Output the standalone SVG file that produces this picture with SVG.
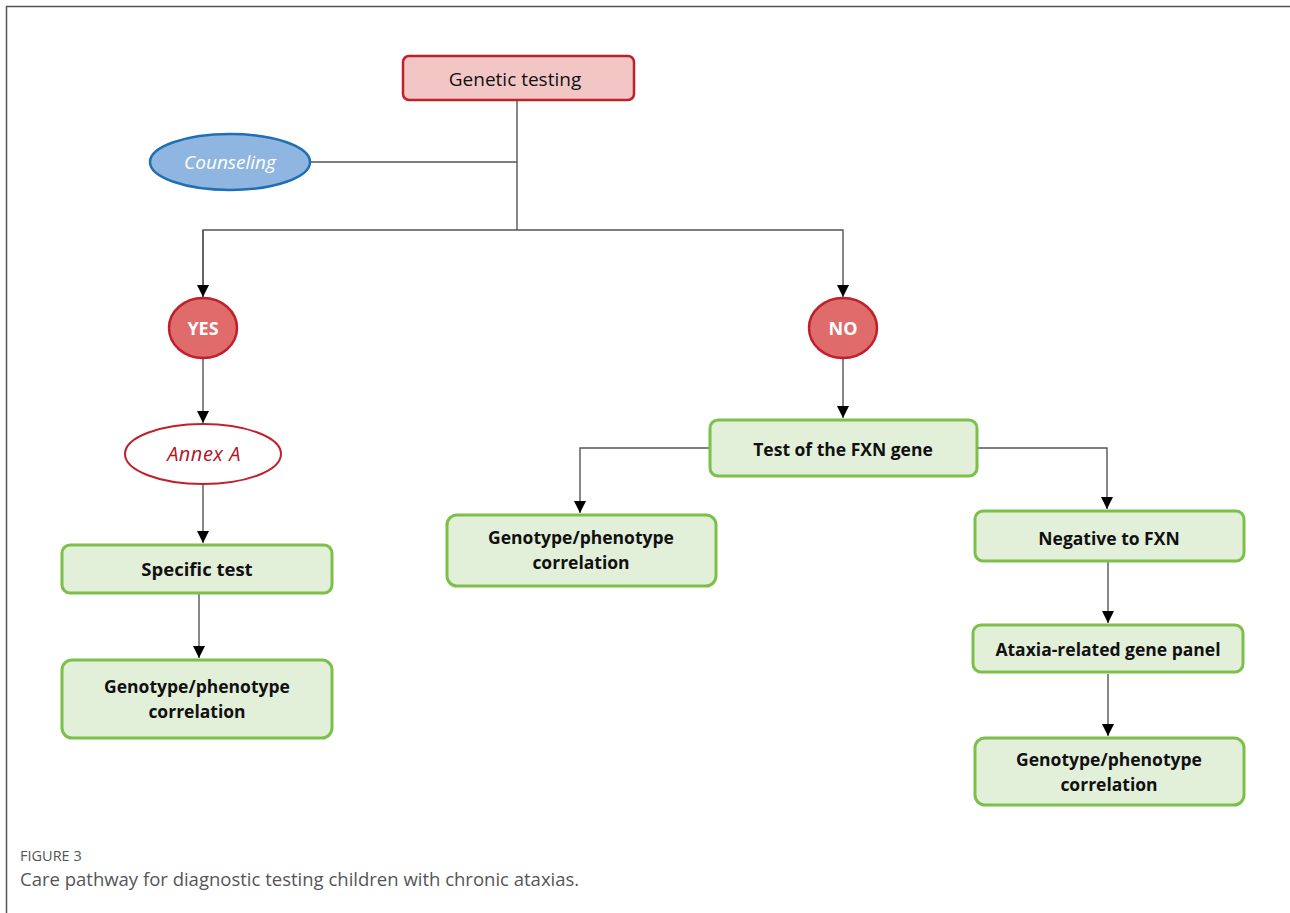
<svg xmlns="http://www.w3.org/2000/svg" width="1290" height="913" viewBox="0 0 1290 913">
<style>
.frame{stroke:#555;stroke-width:1.5;fill:none}
.conn{stroke:#555;stroke-width:1.4;fill:none}
.green{fill:#e2efd9;stroke:#7cc04b;stroke-width:3}
.t{font-family:"Open Sans","Liberation Sans",sans-serif;font-weight:bold;font-size:17.5px;fill:#111;text-anchor:middle}
.cap{font-family:"Open Sans","Liberation Sans",sans-serif;fill:#555}
</style>
<defs>
<marker id="ah" viewBox="0 0 10 10" refX="10" refY="5" markerWidth="12" markerHeight="12" markerUnits="userSpaceOnUse" orient="auto">
<path d="M0,0 L10,5 L0,10 Z" fill="#000"/>
</marker>
</defs>
<rect width="1290" height="913" fill="#fff"/>
<path class="frame" d="M6.5,913 V6.5 H1290"/>
<g id="connectors">
<path class="conn" d="M517,100 V230"/>
<path class="conn" d="M310,162 H517"/>
<path class="conn" d="M203,297 V230 H843 V297" marker-end="url(#ah)"/>
<path class="conn" d="M203,230 V297" marker-end="url(#ah)"/>
<path class="conn" d="M203,358 V423" marker-end="url(#ah)"/>
<path class="conn" d="M203,484 V543" marker-end="url(#ah)"/>
<path class="conn" d="M199,594 V658" marker-end="url(#ah)"/>
<path class="conn" d="M843,358 V418" marker-end="url(#ah)"/>
<path class="conn" d="M710,448 H580 V513" marker-end="url(#ah)"/>
<path class="conn" d="M977,448 H1107 V509" marker-end="url(#ah)"/>
<path class="conn" d="M1108,562 V623" marker-end="url(#ah)"/>
<path class="conn" d="M1108,674 V736" marker-end="url(#ah)"/>
</g>
<g id="genetic-testing">
<rect x="403" y="56" width="231" height="44" rx="6" fill="#f3c6c6" stroke="#c0202a" stroke-width="2.5"/>
<text x="515" y="86" font-family="'Open Sans','Liberation Sans',sans-serif" font-size="19" fill="#111" text-anchor="middle">Genetic testing</text>
</g>
<g id="counseling">
<ellipse cx="230" cy="162" rx="80" ry="28" fill="#8fb6e0" stroke="#1f6fb5" stroke-width="2.5"/>
<text x="230" y="169" font-family="'Open Sans','Liberation Sans',sans-serif" font-size="19" font-style="italic" fill="#fff" text-anchor="middle">Counseling</text>
</g>
<g id="yes">
<ellipse cx="203" cy="328" rx="34" ry="30" fill="#e06b6b" stroke="#c0202a" stroke-width="2.5"/>
<text x="203" y="335" font-family="'Open Sans','Liberation Sans',sans-serif" font-size="18" font-weight="bold" fill="#fff" text-anchor="middle">YES</text>
</g>
<g id="no">
<ellipse cx="843" cy="328" rx="34" ry="30" fill="#e06b6b" stroke="#c0202a" stroke-width="2.5"/>
<text x="843" y="335" font-family="'Open Sans','Liberation Sans',sans-serif" font-size="18" font-weight="bold" fill="#fff" text-anchor="middle">NO</text>
</g>
<g id="annex-a">
<ellipse cx="203" cy="454" rx="78" ry="30" fill="#fff" stroke="#c0202a" stroke-width="2"/>
<text x="204" y="461" font-family="'Open Sans','Liberation Sans',sans-serif" font-size="20" font-style="italic" fill="#b3141e" text-anchor="middle" letter-spacing="0.5">Annex A</text>
</g>
<g id="specific-test">
<rect class="green" x="62" y="545" width="270" height="48" rx="8"/>
<text class="t" x="197" y="576" style="font-size:18.5px">Specific test</text>
</g>
<g id="genotype-left">
<rect class="green" x="62" y="660" width="270" height="78" rx="10"/>
<text class="t" x="197" y="693">Genotype/phenotype</text>
<text class="t" x="197" y="718">correlation</text>
</g>
<g id="test-fxn">
<rect class="green" x="710" y="420" width="267" height="56" rx="8"/>
<text class="t" x="843" y="456">Test of the FXN gene</text>
</g>
<g id="genotype-middle">
<rect class="green" x="447" y="515" width="269" height="71" rx="10"/>
<text class="t" x="581" y="544">Genotype/phenotype</text>
<text class="t" x="581" y="569">correlation</text>
</g>
<g id="negative-fxn">
<rect class="green" x="975" y="511" width="269" height="50" rx="8"/>
<text class="t" x="1109" y="545">Negative to FXN</text>
</g>
<g id="ataxia-panel">
<rect class="green" x="973" y="625" width="270" height="47" rx="8"/>
<text class="t" x="1108" y="656">Ataxia-related gene panel</text>
</g>
<g id="genotype-right">
<rect class="green" x="975" y="738" width="269" height="67" rx="10"/>
<text class="t" x="1109" y="766">Genotype/phenotype</text>
<text class="t" x="1109" y="791">correlation</text>
</g>
<text class="cap" x="20" y="861" font-size="14.5">FIGURE 3</text>
<text class="cap" x="20" y="886" font-size="18.5">Care pathway for diagnostic testing children with chronic ataxias.</text>
</svg>
